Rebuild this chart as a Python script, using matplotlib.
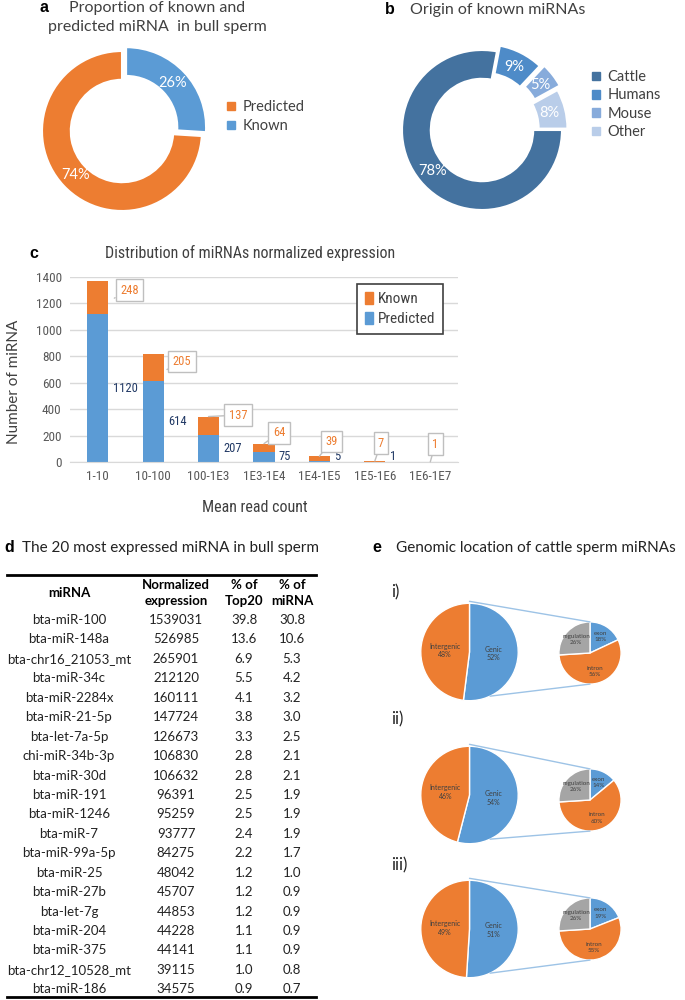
import numpy as np
import matplotlib
matplotlib.use('Agg')
import matplotlib.pyplot as plt
from matplotlib import font_manager
from matplotlib.patches import Patch, ConnectionPatch
from matplotlib.lines import Line2D

# panel a: known vs predicted
a_labels = ['Known', 'Predicted']
a_values = [26, 74]

# panel b: origin of known miRNAs
b_labels = ['Cattle', 'Humans', 'Mouse', 'Other']
b_values = [78, 9, 5, 8]

# panel c: expression distribution
c_bins = ['1-10', '10-100', '100-1E3', '1E3-1E4', '1E4-1E5', '1E5-1E6', '1E6-1E7']
c_predicted = [1120, 614, 207, 75, 5, 1, 0]
c_known = [248, 205, 137, 64, 39, 7, 1]

# panel d: top 20 table
d_mirna = ['bta-miR-100', 'bta-miR-148a', 'bta-chr16_21053_mt', 'bta-miR-34c', 'bta-miR-2284x',
           'bta-miR-21-5p', 'bta-let-7a-5p', 'chi-miR-34b-3p', 'bta-miR-30d', 'bta-miR-191',
           'bta-miR-1246', 'bta-miR-7', 'bta-miR-99a-5p', 'bta-miR-25', 'bta-miR-27b',
           'bta-let-7g', 'bta-miR-204', 'bta-miR-375', 'bta-chr12_10528_mt', 'bta-miR-186']
d_expr = [1539031, 526985, 265901, 212120, 160111, 147724, 126673, 106830, 106632, 96391,
          95259, 93777, 84275, 48042, 45707, 44853, 44228, 44141, 39115, 34575]
d_top20 = [39.8, 13.6, 6.9, 5.5, 4.1, 3.8, 3.3, 2.8, 2.8, 2.5,
           2.5, 2.4, 2.2, 1.2, 1.2, 1.2, 1.1, 1.1, 1.0, 0.9]
d_pct = [30.8, 10.6, 5.3, 4.2, 3.2, 3.0, 2.5, 2.1, 2.1, 1.9,
         1.9, 1.9, 1.7, 1.0, 0.9, 0.9, 0.9, 0.9, 0.8, 0.7]

# panel e: genomic location (i, ii, iii)
e_rows = ['i)', 'ii)', 'iii)']
e_genic = [52, 54, 51]
e_intergenic = [48, 46, 49]
e_exon = [18, 14, 19]
e_intron = [56, 60, 55]
e_regulation = [26, 26, 26]

BLUE = '#5b9bd5'
ORANGE = '#ed7d31'
GRAY = '#a5a5a5'
TXT = '#404040'
B_COLORS = ['#44729f', '#4e8bc8', '#87abdb', '#b9cde9']

plt.rcParams['font.family'] = ['Lato', 'DejaVu Sans']

# panel c was squeezed sideways in the original; use a condensed face if one exists
installed = {f.name for f in font_manager.fontManager.ttflist}
NARROW, NSCALE = ['Lato'], 0.78
for cand in ['Liberation Sans Narrow', 'DejaVu Sans Condensed', 'Roboto Condensed']:
    if cand in installed:
        NARROW, NSCALE = [cand, 'DejaVu Sans'], 1.0
        break

W, H = 685, 1000
fig = plt.figure(figsize=(6.85, 10), dpi=100)


def px_axes(x0, y0, w, h):
    return fig.add_axes([x0 / W, 1 - (y0 + h) / H, w / W, h / H])


def round_axes(cx, cy, r, pad=1.25):
    ax = px_axes(cx - pad * r, cy - pad * r, 2 * pad * r, 2 * pad * r)
    ax.set_xlim(-pad, pad)
    ax.set_ylim(-pad, pad)
    ax.set_aspect('equal')
    ax.axis('off')
    return ax


def ftext(x, y, s, **kw):
    kw.setdefault('va', 'center')
    return fig.text(x / W, 1 - y / H, s, **kw)


def hline(x0, x1, y, lw):
    fig.add_artist(Line2D([x0 / W, x1 / W], [1 - y / H, 1 - y / H], lw=lw, color='black'))


# ---- a ----
ftext(39, 8, 'a', fontsize=11.5, fontweight='bold', family='Liberation Sans')
ftext(157, 8, 'Proportion of known and', fontsize=11.5, color=TXT, ha='center')
ftext(157, 27, 'predicted miRNA  in bull sperm', fontsize=11.5, color=TXT, ha='center')
ax = round_axes(122, 131, 80)
ax.pie(a_values, colors=[BLUE, ORANGE], startangle=90, counterclock=False,
       explode=[0.07, 0], wedgeprops=dict(width=0.36, edgecolor='white', linewidth=1.5),
       autopct=lambda p: f'{p:.0f}%', pctdistance=0.8,
       textprops=dict(color='white', fontsize=10.5))
fig.legend(handles=[Patch(color=ORANGE, label='Predicted'), Patch(color=BLUE, label='Known')],
           loc='upper left', bbox_to_anchor=(214 / W, 1 - 87 / H), frameon=False,
           fontsize=10.5, handlelength=0.55, handleheight=0.55, handletextpad=0.5,
           labelspacing=0.35, labelcolor=TXT)

# ---- b ----
ftext(385, 10, 'b', fontsize=11.5, fontweight='bold', family='Liberation Sans')
ftext(410, 10, 'Origin of known miRNAs', fontsize=11.5, color=TXT)
ax = round_axes(482, 130, 80)
ax.pie(b_values, colors=B_COLORS, startangle=0, counterclock=False,
       explode=[0, 0.08, 0.12, 0.07], wedgeprops=dict(width=0.36, edgecolor='white', linewidth=1.5),
       autopct=lambda p: f'{p:.0f}%', pctdistance=0.8,
       textprops=dict(color='white', fontsize=10.5))
fig.legend(handles=[Patch(color=c, label=l) for c, l in zip(B_COLORS, b_labels)],
           loc='upper left', bbox_to_anchor=(579 / W, 1 - 57 / H), frameon=False,
           fontsize=10.5, handlelength=0.55, handleheight=0.55, handletextpad=0.5,
           labelspacing=0.3, labelcolor=TXT)

# ---- c ----
ftext(29, 254, 'c', fontsize=11.5, fontweight='bold', family='Liberation Sans')
ftext(250, 253, 'Distribution of miRNAs normalized expression', fontsize=11.5 * NSCALE,
      color=TXT, ha='center', family=NARROW)
ftext(14, 382, 'Number of miRNA', fontsize=11, color=TXT, ha='center', rotation=90)
ftext(255, 507, 'Mean read count', fontsize=11.5 * NSCALE, color=TXT, ha='center', family=NARROW)

axc = px_axes(70, 277, 388, 185)
x = np.arange(len(c_bins))
totals = np.array(c_predicted) + np.array(c_known)
axc.bar(x, c_predicted, width=0.38, color=BLUE, zorder=2)
axc.bar(x, c_known, bottom=c_predicted, width=0.38, color=ORANGE, zorder=2)
axc.set_xlim(-0.5, len(c_bins) - 0.5)
axc.set_ylim(0, 1400)
axc.set_yticks(range(0, 1401, 200))
axc.set_xticks(x)
axc.set_xticklabels(c_bins)
axc.yaxis.grid(True, color='#d9d9d9', lw=1)
axc.set_axisbelow(True)
for s in ['top', 'right', 'left']:
    axc.spines[s].set_visible(False)
axc.spines['bottom'].set_color('#d9d9d9')
axc.tick_params(length=0, labelsize=9.5 * NSCALE, labelcolor='#595959', pad=6)
for lab in axc.get_xticklabels() + axc.get_yticklabels():
    lab.set_family(NARROW)

for i, v in enumerate(c_predicted):
    if v > 0:
        axc.text(i + 0.27, max(v / 2, 45), str(v), color='#203864', fontsize=9 * NSCALE,
                 va='center', ha='left', family=NARROW)

# callout placement for known labels (offset from bar top)
callout_dx = [0.57, 0.52, 0.53, 0.27, 0.21, 0.11, 0.09]
callout_dy = [-68, -59, 11, 81, 112, 133, 135]
for i, k in enumerate(c_known):
    ty = totals[i] + callout_dy[i]
    tx = i + callout_dx[i]
    if callout_dy[i] > 0:
        tip = (i, totals[i])
    else:
        tip = (tx - 0.27, ty - 60)
    axc.annotate(str(k), xy=tip, xytext=(tx, ty), color=ORANGE, fontsize=9 * NSCALE,
                 ha='center', va='center', family=NARROW, zorder=5,
                 bbox=dict(boxstyle='square,pad=0.35', fc='white', ec='#bfbfbf', lw=1),
                 arrowprops=dict(arrowstyle='-', color='#bfbfbf', lw=1,
                                 shrinkA=0, shrinkB=0))

leg = axc.legend(handles=[Patch(color=ORANGE, label='Known'), Patch(color=BLUE, label='Predicted')],
                 loc='upper right', bbox_to_anchor=(0.961, 0.962),
                 handlelength=0.55, handleheight=0.9, handletextpad=0.3, labelspacing=0.35,
                 fancybox=False, edgecolor='#404040', framealpha=1, borderpad=0.5,
                 borderaxespad=0, prop=dict(family=NARROW, size=11 * NSCALE))
leg.get_frame().set_linewidth(1.2)
for t in leg.get_texts():
    t.set_color(TXT)

# ---- d ----
ftext(4, 548, 'd', fontsize=11.5, fontweight='bold', family='Liberation Sans')
ftext(22, 548, 'The 20 most expressed miRNA in bull sperm', fontsize=11, color='#222222')
hline(7, 316, 575, 2)
hline(7, 316, 997, 2)
col_x = [69, 176, 244, 292]
ftext(col_x[0], 593, 'miRNA', fontsize=9.5, fontweight='bold', ha='center')
for cx, top, bot in [(col_x[1], 'Normalized', 'expression'), (col_x[2], '% of', 'Top20'),
                     (col_x[3], '% of', 'miRNA')]:
    ftext(cx, 585, top, fontsize=9.5, fontweight='bold', ha='center')
    ftext(cx, 601, bot, fontsize=9.5, fontweight='bold', ha='center')
for i in range(len(d_mirna)):
    y = 620 + i * 19.44
    ftext(col_x[0], y, d_mirna[i], fontsize=9.5, ha='center', color='#222222')
    ftext(col_x[1], y, str(d_expr[i]), fontsize=9.5, ha='center', color='#222222')
    ftext(col_x[2], y, f'{d_top20[i]:.1f}', fontsize=9.5, ha='center', color='#222222')
    ftext(col_x[3], y, f'{d_pct[i]:.1f}', fontsize=9.5, ha='center', color='#222222')

# ---- e ----
ftext(372, 548, 'e', fontsize=11.5, fontweight='bold', family='Liberation Sans')
ftext(396, 548, 'Genomic location of cattle sperm miRNAs', fontsize=11, color='#222222')

row_y = [(592, 652, 653), (719, 795, 800), (865, 929, 929)]
LINE = '#9dc3e6'


def label_wedges(ax, wedges, names, vals, dist, fs):
    for w, n, v in zip(wedges, names, vals):
        th = np.deg2rad((w.theta1 + w.theta2) / 2)
        ax.text(dist * np.cos(th), dist * np.sin(th), f'{n}\n{v}%', ha='center', va='center',
                fontsize=fs, color=TXT, linespacing=1.3)


for r, (ly, by, sy) in enumerate(row_y):
    ftext(391, ly, e_rows[r], fontsize=12, color='#222222')
    big = round_axes(469.5, by, 58, pad=1.05)
    wb, _ = big.pie([e_genic[r], e_intergenic[r]], colors=[BLUE, ORANGE], startangle=90,
                    counterclock=False, wedgeprops=dict(edgecolor='white', linewidth=1))
    label_wedges(big, wb, ['Genic', 'Intergenic'], [e_genic[r], e_intergenic[r]], 0.5, 5)
    small = round_axes(590, sy, 37, pad=1.05)
    vals = [e_exon[r], e_intron[r], e_regulation[r]]
    ws, _ = small.pie(vals, colors=[BLUE, ORANGE, GRAY], startangle=90, counterclock=False,
                      wedgeprops=dict(edgecolor='white', linewidth=1))
    label_wedges(small, ws, ['exon', 'intron', 'regulation'], vals, 0.62, 4.5)
    th = np.deg2rad(-65)
    for pa, pb in [((0, 1.04), (0, 1)), ((np.cos(th), np.sin(th)), (0, -1))]:
        con = ConnectionPatch(xyA=pa, coordsA=big.transData, xyB=pb, coordsB=small.transData,
                              color=LINE, lw=1)
        fig.add_artist(con)

fig.savefig('out.png', dpi=100)
